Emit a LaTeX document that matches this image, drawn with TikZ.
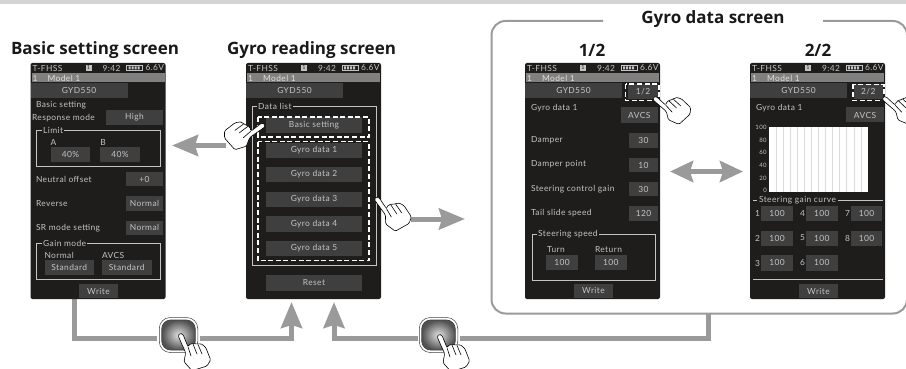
\documentclass[tikz,border=0pt]{standalone}
\usepackage{fontspec}
\setmainfont{Open Sans}
\newfontfamily\lcd[LetterSpace=5]{Lato}
\usetikzlibrary{arrows.meta}
\definecolor{scr}{HTML}{1F1C1C}
\definecolor{bt}{HTML}{3F3F3F}
\definecolor{lcdtxt}{HTML}{C4C4C4}
\definecolor{flow}{HTML}{9A9A9A}
\definecolor{band}{HTML}{808080}
\newcounter{nn}
\tikzset{
  x=1pt,y=-1pt,
  screenbox/.style={fill=scr,rounded corners=2pt,inner sep=0,outer sep=0,minimum width=135pt,minimum height=236pt},
  btnbox/.style={fill=bt,inner sep=0,outer sep=0,text=lcdtxt,font=\lcd\fontsize{8.4}{8.4}\selectfont},
  lbl/.style={inner sep=0,outer sep=0,text=lcdtxt,font=\lcd\fontsize{8.4}{8.4}\selectfont,anchor=west},
  clbl/.style={inner sep=0,outer sep=0,text=lcdtxt,font=\lcd\fontsize{8.4}{8.4}\selectfont},
  ttl/.style={inner sep=0,outer sep=0,font=\fontsize{17}{17}\selectfont\bfseries,text=black!90},
  framebox/.style={draw=lcdtxt,line width=0.7pt},
  dashbox/.style={draw=white,line width=1.6pt,dash pattern=on 5pt off 2.6pt},
  flowline/.style={draw=flow,line width=5pt},
  flowarrow/.style={draw=flow,line width=5pt,-{Stealth[length=26pt,width=21pt,inset=3pt]}},
  biarrow/.style={draw=flow,line width=5pt,{Stealth[length=23pt,width=21pt,inset=3pt]}-{Stealth[length=23pt,width=21pt,inset=3pt]}},
  handline/.style={draw=black,fill=white,line width=0.6pt,line join=round,rounded corners=1.4pt},
  keyout/.style={draw=black!75,fill=white,line width=0.5pt,rounded corners=11pt,inner sep=0,minimum width=38.5pt,minimum height=35pt},
  keyin/.style={draw=black!75,line width=0.7pt,rounded corners=9pt,inner sep=0,minimum width=33.5pt,minimum height=30pt,inner color=black!12,outer color=black!68},
}
% button: x1 y1 x2 y2 text
\newcommand\btn[5]{\stepcounter{nn}\node[btnbox,minimum width={(#3-#1)*1pt},minimum height={(#4-#2)*1pt}] (b\thenn) at ({(#1+#3)/2},{(#2+#4)/2}) {#5};}
\newcommand\tx[3]{\stepcounter{nn}\node[lbl] (t\thenn) at (#1,#2) {#3};}
\newcommand\cx[3]{\stepcounter{nn}\node[clbl] (t\thenn) at (#1,#2) {#3};}
% legend box with the label cutting its top line: x1 y1 x2 y2 labelx text
\newcommand\legendbox[6]{\draw[framebox] (#1,#2) rectangle (#3,#4);
  \stepcounter{nn}\node[lbl,fill=scr,inner xsep=1.2pt] (t\thenn) at (#5,#2) {#6};}
% screen: name, left edge
\newcommand\screen[2]{%
  \node[screenbox] (#1) at ({#2+67.5},181) {};
  \fill[band] ({#2+1},73) rectangle ({#2+134},82.5);
  \tx{#2+2}{68}{T-FHSS}
  \stepcounter{nn}\node[fill=lcdtxt,text=scr,inner sep=0,minimum width=6pt,minimum height=6.5pt,font=\lcd\fontsize{5.5}{5.5}\selectfont] (t\thenn) at ({#2+58},68) {1};
  \tx{#2+72}{68}{9:42}
  \draw[lcdtxt,line width=0.5pt] ({#2+96},65.5) rectangle ({#2+112},70.5);
  \fill[lcdtxt] ({#2+98},66.5) rectangle ({#2+100},69.5) ({#2+101},66.5) rectangle ({#2+103},69.5) ({#2+104},66.5) rectangle ({#2+106},69.5) ({#2+107},66.5) rectangle ({#2+109},69.5);
  \tx{#2+115}{68}{6.6V}
  \stepcounter{nn}\node[lbl,text=white!88!black] (t\thenn) at ({#2+2},78) {1};
  \stepcounter{nn}\node[lbl,text=white!88!black] (t\thenn) at ({#2+17},78) {Model 1};
  \btn{#2+1.5}{83}{#2+95.5}{98}{GYD550}
}
% hand: tip x, tip y, rotation, mirror(1/-1), scale
\newcommand\hand[5]{\begin{scope}[shift={(#1,#2)},rotate=#3,xscale=#4,scale=#5]
  \filldraw[handline] (-1,1.5) -- (1,-0.8) -- (3.8,0) -- (9,12.7) -- (11.7,9.3) -- (14,10) -- (16.7,9.3) -- (19,10.5) -- (21.7,9.3) -- (26.7,13.3) -- (31.7,26) -- (28,32) -- (13,36.7) -- (5,27.7) -- (6.7,18.7) -- cycle;
  \draw[black,line width=0.6pt,line cap=round] (9,12.7) -- (12,22) (14,10) -- (18,20) (19,10.5) -- (23,20);
\end{scope}}
\newcommand\presskey[3]{%
  \node[keyout] (#1o) at (#2,#3) {};
  \node[keyin] (#1) at (#2,#3) {};
}
\begin{document}
\begin{tikzpicture}
\useasboundingbox (0,0) rectangle (906,369);
\fill[black!17] (0,0) rectangle (906,4);

% named ends for the flow lines
\coordinate (a1s) at (74,299);
\coordinate (a1w) at (157,338);
\coordinate (a1e) at (200,338);
\coordinate (a1t) at (291.5,302);
\coordinate (a2t) at (334,302);
\coordinate (a2w) at (418,338);
\coordinate (a2e) at (460,338);
\coordinate (a2s) at (708,313);
\coordinate (l1) at (226,145.5);
\coordinate (l2) at (172,145.5);
\coordinate (r1) at (411,219);
\coordinate (r2) at (465,219);
\coordinate (d1) at (670,171.5);
\coordinate (d2) at (743,171.5);

% big frame
\draw[flow,line width=2pt,rounded corners=14pt] (603,21) -- (491.5,21) -- (491.5,313.5) -- (907,313.5) -- (907,21) -- (823,21);
\node[ttl] (titleG) at (713,19.5) {Gyro data screen};
\node[ttl] (titleA) at (95,50) {Basic setting screen};
\node[ttl] (titleB) at (311.5,50) {Gyro reading screen};
\node[ttl] (titleC) at (592,50) {1/2};
\node[ttl] (titleD) at (818,50) {2/2};

% flow lines
\draw[flowline] (a1s) |- (a1w);
\draw[flowarrow] (a1e) -| (a1t);
\draw[flowline] (a2s) |- (a2e);
\draw[flowarrow] (a2w) -| (a2t);
\draw[flowarrow] (l1) -- (l2);
\draw[flowarrow] (r1) -- (r2);
\draw[biarrow] (d1) -- (d2);

% ---------- screen 1
\screen{s1}{30.5}
\tx{36}{105}{Basic setting}
\tx{32}{118}{Response mode}
\btn{106}{110}{163}{125}{High}
\legendbox{36}{130.5}{160}{166}{42}{Limit}
\cx{53.5}{142}{A}
\cx{103}{142}{B}
\btn{51}{147}{90}{162}{40\%}
\btn{100}{147}{140}{162}{40\%}
\tx{36}{179}{Neutral offset}
\btn{126}{172}{163}{186}{+0}
\tx{36}{203.5}{Reverse}
\btn{126}{196}{163}{210.5}{Normal}
\tx{36}{228}{SR mode setting}
\btn{126}{220.5}{163}{235}{Normal}
\legendbox{36}{243.5}{160}{279.5}{42}{Gain mode}
\tx{44.5}{255}{Normal}
\tx{102}{255}{AVCS}
\btn{44.5}{260}{94}{275}{Standard}
\btn{102}{260}{151.5}{275}{Standard}
\btn{79}{284}{118}{298}{Write}

% ---------- screen 2
\screen{s2}{246}
\legendbox{252}{106}{376.5}{265}{257}{Data list}
\btn{266}{117.5}{362}{133}{Basic setting}
\btn{266}{142.5}{362}{157.5}{Gyro data 1}
\btn{266}{167}{362}{182}{Gyro data 2}
\btn{266}{191.5}{362}{207}{Gyro data 3}
\btn{266}{216}{362}{231.5}{Gyro data 4}
\btn{266}{240.5}{362}{256}{Gyro data 5}
\btn{266}{275}{362}{291}{Reset}
\draw[dashbox] (258,117) rectangle (369,137);
\draw[dashbox] (258,141.5) rectangle (369,260.5);

% ---------- screen 3
\screen{s3}{525}
\btn{628}{84}{658}{99}{1/2}
\tx{531}{108}{Gyro data 1}
\btn{620.5}{107.5}{658}{123}{AVCS}
\tx{531}{140}{Damper}
\btn{629}{133}{658}{147.5}{30}
\tx{531}{164.5}{Damper point}
\btn{629}{158}{658}{172}{10}
\tx{531}{189}{Steering control gain}
\btn{629}{182}{658}{196}{30}
\tx{531}{213.5}{Tail slide speed}
\btn{629}{206}{658}{220.5}{120}
\legendbox{532}{234}{655.5}{280}{537}{Steering speed}
\tx{547}{250}{Turn}
\tx{595}{250}{Return}
\btn{546}{255}{578}{269.5}{100}
\btn{595}{255}{626.5}{269.5}{100}
\btn{574}{283.5}{613}{298}{Write}
\draw[dashbox] (625.5,84) rectangle (659,100.5);

% ---------- screen 4
\screen{s4}{750}
\btn{853.5}{84}{883}{99}{2/2}
\tx{756}{108}{Gyro data 1}
\btn{846}{107.5}{884}{122.5}{AVCS}
\fill[white] (769,127) rectangle (868,191.5);
\foreach \i in {1,...,13} \draw[black!14,line width=0.6pt] ({769+\i*7.07},127) -- ({769+\i*7.07},191.5);
\cx{761}{127.5}{\fontsize{6}{6}\selectfont 100}
\cx{763}{140}{\fontsize{6}{6}\selectfont 80}
\cx{763}{152.5}{\fontsize{6}{6}\selectfont 60}
\cx{763}{165}{\fontsize{6}{6}\selectfont 40}
\cx{763}{178}{\fontsize{6}{6}\selectfont 20}
\cx{765}{190}{\fontsize{6}{6}\selectfont 0}
\draw[framebox] (753,200) -- (883,200) (753,279.5) -- (883,279.5);
\stepcounter{nn}\node[lbl,fill=scr,inner xsep=2pt] (t\thenn) at (757,200) {Steering gain curve};
\cx{757.5}{213.5}{1} \btn{761}{206}{793}{221}{100}
\cx{802.5}{213.5}{4} \btn{806}{206}{837.5}{221}{100}
\cx{847.5}{213.5}{7} \btn{851}{206}{882}{221}{100}
\cx{757.5}{238}{2} \btn{761}{231}{793}{246}{100}
\cx{802.5}{238}{5} \btn{806}{231}{837.5}{246}{100}
\cx{847.5}{238}{8} \btn{851}{231}{882}{246}{100}
\cx{757.5}{263}{3} \btn{761}{255}{793}{270.5}{100}
\cx{802.5}{263}{6} \btn{806}{255}{837.5}{270.5}{100}
\btn{799}{284}{838}{298}{Write}
\draw[dashbox] (853,84.5) rectangle (884,100.5);

% ---------- keys and hands
\presskey{k1}{178.5}{335}
\presskey{k2}{438.5}{335}
\hand{179}{334}{0}{1}{1}
\hand{438}{335}{0}{1}{1}
\hand{375}{198}{12}{1}{1}
\hand{653}{98}{25}{1}{0.95}
\hand{882.5}{98}{25}{1}{0.95}
\hand{265}{125}{-31}{-1}{1}
\end{tikzpicture}
\end{document}
